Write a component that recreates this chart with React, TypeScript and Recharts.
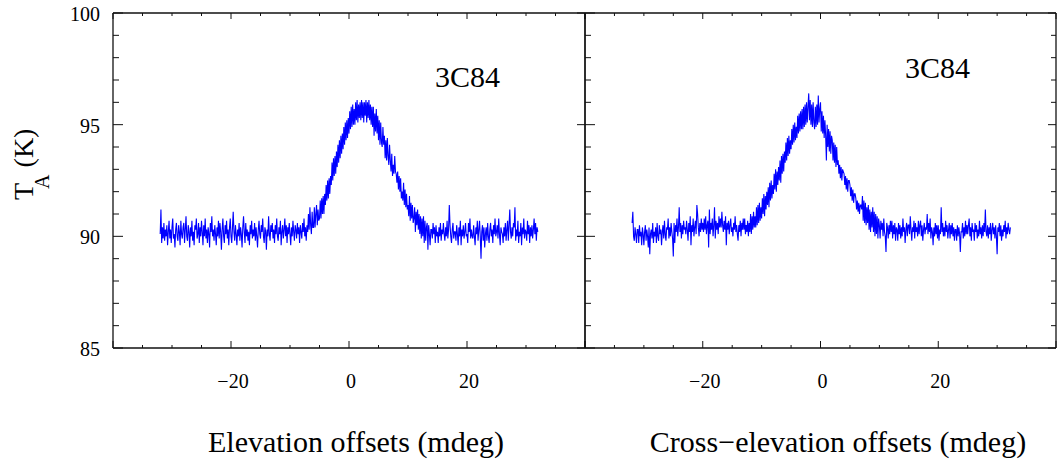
import React from 'react';
import { LineChart, Line, XAxis, YAxis } from 'recharts';

// scan grid: offsets in mdeg, one sample every 0.125 mdeg starting at -32
const scanStart = -32;
const scanStep = 0.125;

// antenna temperature T_A (K) along the elevation scan, 8 samples per mdeg
const elevationTA = [
    90.1, 91.2, 89.7, 90.4, 89.9, 90.6, 89.8, 90.3,
    90.0, 90.5, 89.6, 90.2, 90.7, 89.9, 90.3, 89.7,
    90.4, 90.8, 89.9, 90.1, 89.5, 90.3, 90.6, 90.0,
    89.8, 90.5, 90.2, 89.6, 90.7, 90.1, 89.9, 90.4,
    90.6, 89.7, 90.3, 90.9, 90.0, 89.8, 90.5, 90.2,
    89.5, 90.4, 90.0, 90.7, 89.8, 90.2, 89.6, 90.5,
    90.3, 90.8, 89.9, 90.1, 90.6, 89.7, 90.4, 90.0,
    90.7, 90.2, 89.6, 90.5, 90.0, 90.8, 89.9, 90.3,
    89.7, 90.4, 90.1, 89.5, 90.6, 90.2, 90.9, 90.0,
    90.3, 89.8, 90.5, 90.1, 89.6, 90.4, 90.0, 90.7,
    89.9, 90.6, 90.2, 89.4, 90.3, 90.8, 90.0, 89.7,
    90.5, 90.1, 90.7, 89.9, 90.3, 89.6, 90.4, 90.8,
    90.0, 89.7, 90.4, 91.1, 90.2, 89.8, 90.5, 90.1,
    89.6, 90.3, 90.0, 90.6, 89.8, 90.4, 90.1, 89.5,
    90.4, 90.9, 90.2, 89.7, 90.6, 90.0, 90.3, 89.8,
    90.2, 89.6, 90.5, 90.1, 90.7, 89.9, 90.3, 90.0,
    90.6, 89.8, 90.4, 90.0, 89.5, 90.3, 90.7, 90.1,
    89.9, 90.5, 90.2, 90.8, 90.0, 89.7, 90.4, 90.2,
    89.4, 90.3, 90.0, 90.9, 90.1, 89.8, 90.5, 90.2,
    90.6, 89.9, 90.3, 89.7, 90.5, 90.1, 90.8, 90.0,
    89.8, 90.4, 90.1, 90.7, 89.6, 90.2, 90.5, 89.9,
    90.3, 90.8, 90.0, 90.5, 89.7, 90.4, 90.1, 90.6,
    90.1, 89.6, 90.4, 90.0, 90.7, 90.2, 89.8, 90.5,
    90.3, 89.9, 90.6, 90.1, 90.4, 89.7, 90.5, 90.2,
    89.9, 90.6, 90.2, 90.8, 90.0, 90.4, 89.8, 90.5,
    90.2, 91.0, 90.3, 91.3, 90.5, 90.1, 91.1, 90.4,
    90.4, 91.3, 90.4, 91.0, 91.4, 90.5, 91.2, 90.7,
    90.8, 91.6, 90.8, 91.7, 91.0, 91.8, 91.0, 91.9,
    91.4, 92.3, 91.6, 92.5, 91.7, 92.6, 91.9, 92.7,
    92.3, 93.3, 92.5, 93.5, 92.7, 93.6, 92.8, 93.8,
    93.1, 94.1, 93.3, 94.3, 93.5, 94.5, 93.7, 94.6,
    93.9, 94.9, 94.1, 95.1, 94.3, 95.2, 94.4, 95.3,
    94.6, 95.6, 94.8, 95.8, 94.9, 95.9, 95.0, 95.7,
    95.0, 96.0, 95.2, 96.1, 95.1, 95.9, 95.3, 96.0,
    95.2, 96.1, 95.3, 96.0, 95.1, 96.0, 95.4, 96.1,
    95.1, 96.0, 95.3, 96.1, 95.2, 95.9, 95.0, 95.8,
    94.9, 95.8, 94.5, 95.5, 94.7, 95.7, 94.6, 95.4,
    94.3, 95.2, 94.1, 95.1, 94.2, 94.0, 94.9, 94.1,
    94.5, 93.5, 94.3, 93.4, 94.4, 93.6, 93.2, 94.1,
    93.4, 92.9, 93.7, 92.7, 93.2, 92.8, 93.6, 92.9,
    92.8, 92.4, 92.9, 92.1, 92.7, 92.0, 92.6, 91.7,
    92.0, 91.6, 92.4, 91.4, 92.1, 91.3, 91.9, 91.2,
    91.4, 90.9, 91.8, 90.7, 91.5, 90.8, 91.4, 90.6,
    90.8, 91.3, 90.2, 91.1, 90.5, 91.2, 90.3, 91.0,
    90.1, 90.9, 89.9, 90.8, 90.0, 90.9, 89.7, 90.7,
    89.8, 90.4, 90.6, 89.4, 90.5, 90.1, 89.6, 90.3,
    90.3, 89.9, 90.6, 90.1, 90.4, 89.7, 90.5, 90.0,
    90.2, 89.7, 90.4, 90.0, 90.6, 89.8, 90.3, 90.1,
    90.6, 90.1, 89.8, 90.4, 90.0, 90.7, 89.9, 90.3,
    91.4, 90.5, 90.0, 89.7, 90.3, 90.6, 89.9, 90.2,
    90.2, 89.8, 90.5, 90.1, 89.6, 90.4, 90.0, 90.7,
    89.6, 90.3, 90.0, 90.5, 89.9, 90.2, 90.6, 90.0,
    90.1, 89.7, 90.6, 90.2, 90.8, 89.9, 90.3, 90.0,
    89.9, 90.5, 90.0, 89.6, 90.4, 90.1, 90.7, 89.8,
    90.3, 90.7, 90.0, 89.0, 90.2, 90.5, 89.8, 90.4,
    89.5, 90.1, 90.4, 89.8, 90.6, 90.0, 89.7, 90.3,
    90.6, 90.0, 90.3, 89.7, 90.5, 90.1, 90.8, 90.0,
    90.2, 90.5, 89.9, 90.8, 90.1, 89.6, 90.4, 90.2,
    90.1, 89.7, 90.4, 90.0, 90.6, 89.8, 90.3, 90.7,
    89.8, 90.5, 91.2, 90.2, 89.9, 90.4, 90.0, 90.6,
    90.4, 91.3, 89.8, 90.3, 90.0, 90.7, 89.7, 90.2,
    90.0, 90.6, 89.6, 90.4, 90.1, 90.8, 89.9, 90.3,
    90.2, 89.8, 90.7, 90.1, 90.5, 89.7, 90.4, 90.0,
    90.5, 89.9, 90.3, 90.8, 90.1, 90.6, 89.8, 90.4,
    90.2,
];

// antenna temperature T_A (K) along the cross-elevation scan, 8 samples per mdeg
const crossElevationTA = [
    90.6, 91.1, 90.0, 89.8, 90.4, 90.1, 89.7, 90.3,
    90.3, 89.7, 90.5, 90.0, 90.2, 89.6, 90.4, 90.1,
    89.6, 90.2, 90.5, 89.8, 90.3, 90.0, 89.5, 90.4,
    89.2, 90.1, 90.3, 89.9, 90.6, 89.7, 90.2, 90.0,
    90.4, 89.7, 90.6, 90.0, 89.8, 90.5, 90.1, 90.3,
    89.6, 90.2, 90.5, 89.9, 90.7, 90.1, 89.8, 90.4,
    90.3, 90.8, 89.9, 90.4, 90.0, 90.6, 90.2, 89.9,
    89.1, 90.6, 89.7, 90.5, 90.2, 90.8, 90.0, 90.4,
    91.3, 90.2, 90.6, 89.9, 90.5, 90.1, 90.7, 90.3,
    90.4, 90.1, 90.7, 90.3, 89.8, 90.6, 90.2, 90.9,
    89.6, 90.5, 90.2, 90.8, 90.0, 90.4, 90.7, 90.1,
    91.4, 91.0, 90.4, 90.0, 90.6, 90.2, 90.8, 90.3,
    90.6, 90.2, 90.8, 90.3, 90.9, 90.1, 90.5, 90.7,
    89.5, 91.2, 90.1, 90.6, 90.3, 90.8, 90.0, 90.5,
    91.3, 89.9, 90.7, 90.3, 90.6, 90.1, 90.9, 90.4,
    90.8, 90.4, 91.1, 90.5, 90.2, 90.7, 90.3, 90.9,
    89.6, 90.6, 90.3, 90.7, 90.1, 90.5, 90.8, 90.2,
    90.4, 90.0, 90.6, 90.3, 90.9, 90.2, 90.5, 90.1,
    89.8, 90.5, 90.2, 90.7, 90.0, 90.6, 90.3, 90.8,
    90.3, 90.8, 90.1, 90.5, 90.2, 90.7, 90.0, 90.6,
    90.2, 91.0, 90.1, 90.9, 90.3, 91.1, 90.4, 90.9,
    90.4, 91.3, 90.5, 91.4, 90.6, 91.5, 90.7, 91.3,
    90.8, 91.7, 91.0, 91.9, 90.9, 91.8, 91.2, 92.0,
    91.4, 92.2, 91.3, 92.4, 91.6, 92.5, 91.7, 92.3,
    91.9, 92.8, 92.1, 93.0, 92.0, 92.9, 92.3, 93.1,
    92.5, 93.4, 92.4, 93.6, 92.8, 93.7, 92.9, 93.8,
    93.3, 94.2, 93.4, 94.4, 93.6, 94.5, 93.7, 94.3,
    93.9, 94.8, 94.1, 95.0, 94.2, 95.1, 94.3, 94.9,
    94.4, 95.4, 94.6, 95.5, 94.7, 95.6, 94.8, 95.7,
    94.8, 95.8, 94.9, 95.9, 95.0, 96.0, 95.1, 95.8,
    96.4, 95.2, 96.1, 95.0, 95.9, 94.9, 96.0, 95.1,
    94.8, 95.8, 94.9, 95.9, 95.0, 96.3, 95.1, 95.7,
    96.0, 94.7, 95.6, 94.6, 95.4, 94.4, 95.2, 94.5,
    93.4, 95.0, 94.0, 94.8, 93.8, 94.7, 93.7, 94.5,
    94.3, 93.4, 94.2, 93.3, 94.1, 93.1, 94.0, 93.2,
    93.4, 92.8, 93.2, 92.6, 93.1, 92.5, 93.0, 92.9,
    92.8, 92.3, 92.7, 92.1, 92.6, 92.0, 92.5, 92.5,
    92.3, 91.8, 92.2, 91.6, 92.1, 91.5, 91.9, 91.9,
    91.7, 91.2, 91.6, 91.1, 91.5, 91.0, 91.4, 91.4,
    91.2, 91.8, 90.7, 91.6, 90.6, 91.5, 90.5, 91.3,
    90.6, 91.4, 90.3, 91.2, 90.2, 91.1, 90.4, 91.3,
    90.2, 91.1, 90.0, 91.0, 90.1, 90.9, 89.9, 90.8,
    90.5, 89.9, 90.7, 90.3, 90.6, 90.0, 90.8, 90.2,
    90.0, 89.3, 90.6, 90.4, 89.9, 90.5, 90.1, 90.7,
    90.2, 90.7, 89.9, 90.5, 90.1, 90.6, 89.8, 90.4,
    90.3, 89.8, 90.6, 90.1, 90.5, 89.9, 90.4, 90.0,
    90.8, 90.2, 90.4, 89.7, 90.3, 90.6, 90.0, 90.5,
    90.5, 90.1, 90.9, 90.3, 89.8, 90.4, 90.2, 90.7,
    89.9, 90.6, 90.2, 90.4, 90.0, 90.7, 90.1, 90.5,
    90.7, 90.0, 90.5, 89.8, 90.3, 90.6, 90.1, 90.4,
    90.3, 91.0, 90.1, 90.6, 90.2, 90.8, 89.9, 90.4,
    90.2, 89.6, 90.4, 90.0, 90.6, 90.1, 90.5, 89.9,
    90.5, 89.8, 90.3, 90.1, 91.3, 90.2, 90.6, 90.0,
    90.4, 90.0, 90.7, 90.2, 90.5, 89.9, 90.3, 90.6,
    89.9, 90.5, 90.1, 90.6, 90.0, 90.4, 89.8, 90.3,
    90.3, 89.8, 90.5, 90.0, 90.4, 90.1, 89.3, 90.2,
    90.2, 90.6, 89.9, 90.4, 90.0, 90.7, 90.1, 90.5,
    90.1, 90.5, 90.8, 90.0, 90.4, 89.8, 90.6, 90.2,
    90.3, 89.8, 90.6, 90.2, 90.5, 89.9, 90.3, 90.0,
    90.7, 90.1, 90.4, 89.9, 90.5, 90.0, 90.6, 90.2,
    91.2, 90.2, 90.0, 90.5, 89.9, 90.4, 90.1, 90.6,
    89.8, 90.3, 90.6, 90.1, 90.4, 89.9, 90.5, 90.0,
    89.2, 90.4, 90.2, 90.6, 90.0, 90.5, 89.8, 90.3,
    90.0, 90.5, 90.2, 90.7, 89.9, 90.4, 90.1, 90.6,
    90.3, 90.1, 90.4,
];

const xTicks = [-40, -35, -30, -25, -20, -15, -10, -5, 0, 5, 10, 15, 20, 25, 30, 35, 40];
const xTickLabels = [-20, 0, 20];
const yTicks = [85, 86, 87, 88, 89, 90, 91, 92, 93, 94, 95, 96, 97, 98, 99, 100];
const yTickLabels = [85, 90, 95, 100];
const sourceName = '3C84';

const toRows = (values: number[]) =>
    values.map((ta, i) => ({ offset: scanStart + i * scanStep, ta }));

const elevationRows = toRows(elevationTA);
const crossRows = toRows(crossElevationTA);

const FONT = "'Liberation Serif', 'DejaVu Serif', serif";
const INK = '#111';
const frame = { stroke: INK, strokeWidth: 1.3 };
const serif = { fontFamily: FONT };

const fmt = (v: number) => (v < 0 ? `\u2212${Math.abs(v)}` : String(v));

const BottomTick = (props: any) => {
    const { x, y, payload } = props;
    const major = payload.value % 20 === 0;
    return (
        <g>
            <line x1={x} x2={x} y1={y} y2={y - (major ? 7 : 3)} stroke={INK} strokeWidth={1} />
            {xTickLabels.includes(payload.value) && (
                <text x={x + 2} y={y + 33} textAnchor="middle" dominantBaseline="central"
                    fontSize={20} style={serif} fill="#000">
                    {fmt(payload.value)}
                </text>
            )}
        </g>
    );
};

const TopTick = (props: any) => {
    const { x, y, payload } = props;
    const major = payload.value % 20 === 0;
    return <line x1={x} x2={x} y1={y} y2={y + (major ? 6 : 3)} stroke={INK} strokeWidth={1} />;
};

const LeftTick = (props: any) => {
    const { x, y, payload, showLabel } = props;
    const major = payload.value % 5 === 0;
    return (
        <g>
            <line x1={x} x2={x + (major ? 10 : 6)} y1={y} y2={y} stroke={INK} strokeWidth={1} />
            {showLabel && yTickLabels.includes(payload.value) && (
                <text x={x - 13} y={y + 1} textAnchor="end" dominantBaseline="central"
                    fontSize={20} style={serif} fill="#000">
                    {payload.value}
                </text>
            )}
        </g>
    );
};

const RightTick = (props: any) => {
    const { x, y, payload, minors } = props;
    const major = payload.value % 5 === 0;
    if (!major && !minors) return <g />;
    return <line x1={x} x2={x - (major ? 8 : 5)} y1={y} y2={y} stroke={INK} strokeWidth={1} />;
};

// one scan panel; axes of 1px size so Recharts still draws them as the frame
const Panel = ({ rows, width, margin, labels }: any) => (
    <LineChart width={width} height={463} data={rows} margin={margin}>
        <XAxis xAxisId="b" dataKey="offset" type="number" domain={[-40, 40]} allowDataOverflow
            ticks={xTicks} interval={0} tick={BottomTick} tickLine={false} tickSize={0}
            tickMargin={0} height={40} axisLine={frame} stroke={INK} />
        <XAxis xAxisId="t" orientation="top" dataKey="offset" type="number" domain={[-40, 40]}
            allowDataOverflow ticks={xTicks} interval={0} tick={TopTick} tickLine={false}
            tickSize={0} tickMargin={0} height={1} axisLine={frame} stroke={INK} />
        <YAxis yAxisId="l" type="number" domain={[85, 100]} allowDataOverflow ticks={yTicks}
            interval={0} tick={(p: any) => <LeftTick {...p} showLabel={labels} />} tickLine={false}
            tickSize={0} tickMargin={0} width={labels ? 60 : 1} axisLine={frame} stroke={INK} />
        <YAxis yAxisId="r" orientation="right" type="number" domain={[85, 100]} allowDataOverflow
            ticks={yTicks} interval={0} tick={(p: any) => <RightTick {...p} minors={!labels} />}
            tickLine={false} tickSize={0} tickMargin={0} width={1} axisLine={frame} stroke={INK} />
        <Line xAxisId="b" yAxisId="l" dataKey="ta" type="linear" stroke="#0000ff"
            strokeWidth={1.1} dot={false} isAnimationActive={false} />
        <Line xAxisId="t" yAxisId="r" dataKey="ta" type="linear" stroke="none"
            dot={false} activeDot={false} isAnimationActive={false} />
    </LineChart>
);

export default function App() {
    return (
        <div style={{ position: 'absolute', left: 0, top: 0, width: 1057, height: 463, background: '#fff' }}>
            <div style={{ position: 'absolute', left: 0, top: 0 }}>
                <Panel rows={elevationRows} width={600} labels
                    margin={{ top: 12, right: 14, bottom: 75, left: 53 }} />
            </div>
            <div style={{ position: 'absolute', left: 0, top: 0 }}>
                <Panel rows={crossRows} width={1057} labels={false}
                    margin={{ top: 12, right: 0, bottom: 75, left: 584 }} />
            </div>
            <svg width={1057} height={463} style={{ position: 'absolute', left: 0, top: 0, pointerEvents: 'none', fontFamily: FONT }}
                fill="#000">
                <text x={435} y={87} fontSize={30}>{sourceName}</text>
                <text x={905} y={78} fontSize={30}>{sourceName}</text>
                <text x={356} y={452} fontSize={30} textAnchor="middle">Elevation offsets (mdeg)</text>
                <text x={838} y={452} fontSize={30} textAnchor="middle">Cross{'\u2212'}elevation offsets (mdeg)</text>
                <text x={33} y={200} fontSize={28} transform="rotate(-90, 33, 200)">
                    T
                    <tspan dx={-6} dy={16} fontSize={20}>A</tspan>
                    <tspan dx={7} dy={-16}>(K)</tspan>
                </text>
            </svg>
        </div>
    );
}
